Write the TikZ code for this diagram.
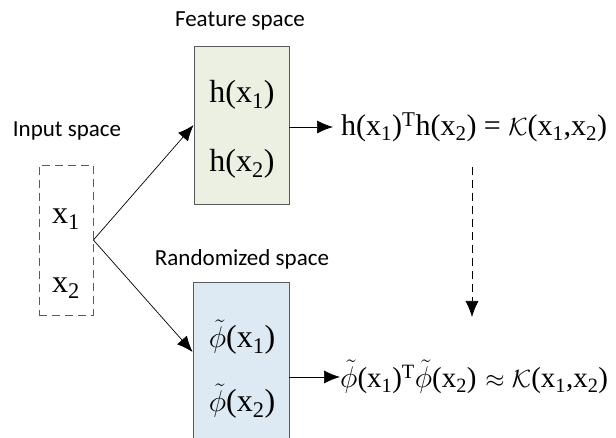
\documentclass[tikz,border=0pt]{standalone}
\usepackage{fontspec}
\setmainfont{Liberation Serif}
\newfontfamily\labelfont{Carlito}
\usetikzlibrary{arrows.meta}

\definecolor{featfill}{RGB}{236,240,226}
\definecolor{randfill}{RGB}{221,234,243}
\definecolor{boxline}{RGB}{90,90,90}

\newcommand{\vx}[1]{x\textsubscript{#1}}
\newcommand{\tphi}{\scalebox{1.2}{$\tilde{\phi}$}}

\tikzset{
  spacebox/.style={draw=boxline, line width=0.8pt, inner sep=0pt},
  spacelabel/.style={font=\labelfont\fontsize{23}{26}\selectfont},
  entry/.style={font=\fontsize{32}{36}\selectfont, inner sep=0pt},
  kernel/.style={font=\fontsize{30}{34}\selectfont, inner sep=0pt, anchor=west},
  link/.style={-{Latex[length=16pt,width=13pt]}, line width=0.7pt},
  dashline/.style={dash pattern=on 8pt off 5pt}
}

\begin{document}
\begin{tikzpicture}[x=1pt,y=-1pt]
        \useasboundingbox (0,0) rectangle (616,438);
        \clip (0,0) rectangle (616,438);
        % labels
        \node[spacelabel] (lf) at (240,21) {Feature space};
        \node[spacelabel] (li) at (67,131) {Input space};
        \node[spacelabel] (lr) at (242,259) {Randomized space};
        % boxes
        \node[spacebox, dashline, minimum width=54pt, minimum height=150pt] (inp) at (66,240) {};
        \node[spacebox, fill=featfill, minimum width=95pt, minimum height=158pt] (feat) at (241.5,125) {};
        \node[spacebox, fill=randfill, minimum width=96pt, minimum height=180pt] (rand) at (241,372) {};
        % entries
        \node[entry] (x1) at (66,219) {\vx{1}};
        \node[entry] (x2) at (66,288) {\vx{2}};
        \node[entry] (h1) at (242,95) {h(\vx{1})};
        \node[entry] (h2) at (242,164) {h(\vx{2})};
        \node[entry] (p1) at (242,337) {\tphi(\vx{1})};
        \node[entry] (p2) at (242,401) {\tphi(\vx{2})};
        % kernels
        \node[kernel] (kh) at (341,127) {h(\vx{1})\textsuperscript{T}h(\vx{2}) = $\mathcal{K}$(\vx{1},\vx{2})};
        \node[kernel, font=\fontsize{29}{33}\selectfont] (kp) at (340,377) {\tphi(\vx{1})\textsuperscript{T}\tphi(\vx{2})\hspace{0.3em}$\approx$ $\mathcal{K}$(\vx{1},\vx{2})};
        \coordinate (dtop) at (472,167);
        \coordinate (dbot) at (472,317);
        % connectors
        \draw[link] (inp.east) -- (feat.west);
        \draw[link] (inp.east) -- (rand.west |- 0,352);
        \draw[link, shorten >=8pt] (feat.east |- kh) -- (kh.west);
        \draw[link] (rand.east |- kp) -- (kp.west);
        \draw[link, dashline] (dtop) -- (dbot);
    \end{tikzpicture}
\end{document}
